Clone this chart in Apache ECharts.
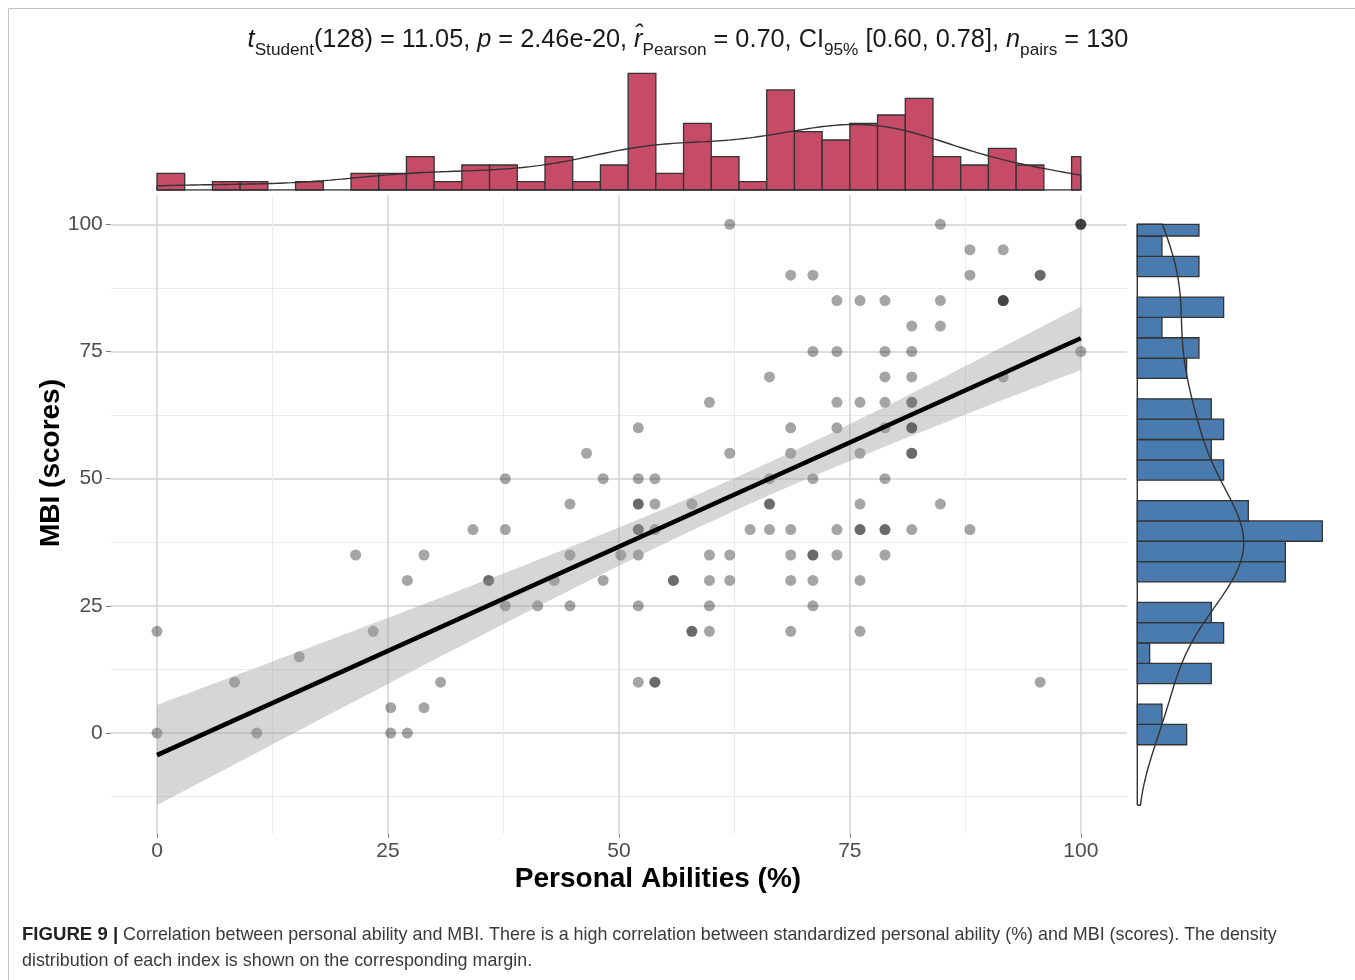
<!DOCTYPE html>
<html>
<head>
<meta charset="utf-8">
<script src="https://cdn.jsdelivr.net/npm/echarts@6/dist/echarts.min.js"></script>
<style>
  html, body { margin: 0; padding: 0; background: #ffffff; }
  #chart { width: 1355px; height: 980px; }
</style>
</head>
<body>
<div id="chart"></div>
<script>
// Personal Abilities (%) of each respondent (one entry per person)
const abilities = [
  0, 0, 8.4, 10.8, 15.4, 21.5, 23.4, 25.3, 25.3, 27.1, 27.1, 28.9, 28.9, 30.7, 34.2,
  35.9, 35.9, 37.7, 37.7, 37.7, 41.2, 43.0, 44.7, 44.7, 44.7, 46.5, 48.3, 48.3, 50.2,
  52.1, 52.1, 52.1, 52.1, 52.1, 52.1, 52.1, 52.1, 52.1,
  53.9, 53.9, 53.9, 53.9, 53.9,
  55.9, 55.9,
  57.9, 57.9, 57.9,
  59.8, 59.8, 59.8, 59.8, 59.8,
  62.0, 62.0, 62.0, 62.0,
  64.2,
  66.3, 66.3, 66.3, 66.3, 66.3,
  68.6, 68.6, 68.6, 68.6, 68.6, 68.6, 68.6,
  71.0, 71.0, 71.0, 71.0, 71.0, 71.0, 71.0,
  73.6, 73.6, 73.6, 73.6, 73.6, 73.6,
  76.1, 76.1, 76.1, 76.1, 76.1, 76.1, 76.1, 76.1,
  78.8, 78.8, 78.8, 78.8, 78.8, 78.8, 78.8, 78.8, 78.8,
  81.7, 81.7, 81.7, 81.7, 81.7, 81.7, 81.7, 81.7, 81.7, 81.7, 81.7,
  84.8, 84.8, 84.8, 84.8,
  88.0, 88.0, 88.0,
  91.6, 91.6, 91.6, 91.6, 91.6,
  95.6, 95.6, 95.6,
  100, 100, 100, 100
];

// MBI score of the same respondents, in the same order
const mbi = [
  20, 0, 10, 0, 15, 35, 20, 5, 0, 30, 0, 35, 5, 10, 40,
  30, 30, 50, 40, 25, 25, 30, 45, 35, 25, 55, 50, 30, 35,
  60, 50, 45, 45, 40, 40, 35, 25, 10,
  50, 45, 40, 10, 10,
  30, 30,
  45, 20, 20,
  65, 35, 30, 25, 20,
  100, 55, 35, 30,
  40,
  70, 50, 45, 45, 40,
  90, 60, 55, 40, 35, 30, 20,
  90, 75, 50, 35, 35, 30, 25,
  85, 75, 65, 60, 40, 35,
  85, 65, 55, 45, 40, 40, 30, 20,
  85, 75, 70, 65, 60, 50, 40, 40, 35,
  80, 75, 70, 65, 65, 60, 60, 60, 55, 55, 40,
  100, 85, 80, 45,
  95, 90, 40,
  95, 85, 85, 85, 70,
  90, 90, 10,
  100, 100, 100, 75
];

// Axis ticks and grid lines
const xTicks = [0, 25, 50, 75, 100];
const yTicks = [0, 25, 50, 75, 100];
const xMinorTicks = [12.5, 37.5, 62.5, 87.5];
const yMinorTicks = [-12.5, 12.5, 37.5, 62.5, 87.5];

// Histogram binning for the two margins
const X_BIN_WIDTH = 3, X_BIN_ORIGIN = 0;
const Y_BIN_WIDTH = 4, Y_BIN_ORIGIN = 1.7;

const T975 = 1.9787; // Student t quantile (0.975, df = 128)

const FONT = '"Liberation Sans", Arial, Helvetica, sans-serif';
const TOP_FILL = '#C54B67';
const SIDE_FILL = '#4A7BAE';
const EDGE = '#333333';

// ---------- statistics ----------
const n = abilities.length;
const mean = a => a.reduce((s, v) => s + v, 0) / a.length;
const mx = mean(abilities), my = mean(mbi);
let sxx = 0, sxy = 0;
for (let i = 0; i < n; i++) {
  sxx += (abilities[i] - mx) ** 2;
  sxy += (abilities[i] - mx) * (mbi[i] - my);
}
const slope = sxy / sxx;
const intercept = my - slope * mx;
let sse = 0;
for (let i = 0; i < n; i++) sse += (mbi[i] - intercept - slope * abilities[i]) ** 2;
const sigma = Math.sqrt(sse / (n - 2));

const xMin = Math.min(...abilities), xMax = Math.max(...abilities);
const fitSamples = [];
for (let k = 0; k <= 80; k++) {
  const x = xMin + (xMax - xMin) * k / 80;
  const yhat = intercept + slope * x;
  const se = sigma * Math.sqrt(1 / n + (x - mx) ** 2 / sxx);
  fitSamples.push([x, yhat - T975 * se, yhat + T975 * se]);
}
const yLo = Math.min(Math.min(...mbi), ...fitSamples.map(s => s[1]));
const yHi = Math.max(Math.max(...mbi), ...fitSamples.map(s => s[2]));

function quantile(values, p) {
  const s = values.slice().sort((a, b) => a - b);
  const h = (s.length - 1) * p, lo = Math.floor(h);
  return s[lo] + (h - lo) * ((s[lo + 1] !== undefined ? s[lo + 1] : s[lo]) - s[lo]);
}
function bwNrd0(values) {
  const m = mean(values);
  const sd = Math.sqrt(values.reduce((s, v) => s + (v - m) ** 2, 0) / (values.length - 1));
  const iqr = quantile(values, 0.75) - quantile(values, 0.25);
  let lo = Math.min(sd, iqr / 1.34);
  if (!(lo > 0)) lo = sd || 1;
  return 0.9 * lo * Math.pow(values.length, -0.2);
}
// Gaussian kernel density, expressed in histogram-count units
function kde(values, lo, hi, binWidth) {
  const bw = bwNrd0(values);
  const pts = [];
  const steps = 240;
  for (let i = 0; i <= steps; i++) {
    const x = lo + (hi - lo) * i / steps;
    let s = 0;
    for (const v of values) { const z = (x - v) / bw; s += Math.exp(-0.5 * z * z); }
    pts.push([x, s / (bw * Math.sqrt(2 * Math.PI)) * binWidth]);
  }
  return pts;
}
function histogram(values, origin, width, lo, hi) {
  const counts = new Map();
  values.forEach(v => {
    const k = Math.floor((v - origin) / width + 1e-9);
    counts.set(k, (counts.get(k) || 0) + 1);
  });
  return [...counts.entries()].sort((a, b) => a[0] - b[0]).map(([k, c]) => [
    Math.max(origin + k * width, lo), Math.min(origin + (k + 1) * width, hi), c
  ]);
}

const xBins = histogram(abilities, X_BIN_ORIGIN, X_BIN_WIDTH, xMin, xMax);
const yBins = histogram(mbi, Y_BIN_ORIGIN, Y_BIN_WIDTH, yLo, yHi).map(b => [b[2], b[0], b[1]]);
const xDens = kde(abilities, xMin, xMax, X_BIN_WIDTH);
const yDens = kde(mbi, yLo, yHi, Y_BIN_WIDTH);
const xDensPath = [[xMin, 0]].concat(xDens, [[xMax, 0], [xMin, 0]]);
const yDensPath = [[0, yLo]].concat(yDens.map(p => [p[1], p[0]]), [[0, yHi], [0, yLo]]);

const points = abilities.map((x, i) => [x, mbi[i]]);
const fitLine = [[xMin, intercept + slope * xMin], [xMax, intercept + slope * xMax]];

// ---------- layout ----------
const MAIN = { left: 110.8, top: 195.3, width: 1016.2, height: 638.5 };
const X_RANGE = [-5, 105];
const Y_RANGE = [-19.8, 105.7];

const chart = echarts.init(document.getElementById('chart'), null, { renderer: 'canvas' });

const subtitleRich = {
  n: { fontSize: 25.3, fontFamily: FONT, fill: '#1a1a1a', lineHeight: 38, verticalAlign: 'middle' },
  i: { fontSize: 25.3, fontFamily: FONT, fontStyle: 'italic', fill: '#1a1a1a', lineHeight: 38, verticalAlign: 'middle' },
  s: { fontSize: 17.2, fontFamily: FONT, fill: '#1a1a1a', lineHeight: 21, verticalAlign: 'bottom' }
};

const hiddenAxisLine = { show: false, onZero: false };

chart.setOption({
  animation: false,
  backgroundColor: '#ffffff',
  textStyle: { fontFamily: FONT },
  grid: [
    { left: MAIN.left, top: MAIN.top, width: MAIN.width, height: MAIN.height },
    { left: MAIN.left, top: 73.3, width: MAIN.width, height: 116.7 },
    { left: 1137.3, top: MAIN.top, width: 185, height: MAIN.height }
  ],
  xAxis: [
    {
      gridIndex: 0, type: 'value', min: X_RANGE[0], max: X_RANGE[1], position: 'bottom',
      axisLine: hiddenAxisLine,
      axisTick: { show: true, length: 4, customValues: xTicks, lineStyle: { color: '#777777', width: 1 } },
      axisLabel: { customValues: xTicks, fontSize: 21, color: '#4d4d4d', margin: 7, fontFamily: FONT },
      splitLine: { show: true, lineStyle: { color: '#d3d3d3', width: 1.5 } }
    },
    {
      gridIndex: 0, type: 'value', min: X_RANGE[0], max: X_RANGE[1], position: 'bottom',
      axisLine: hiddenAxisLine, axisLabel: { show: false },
      axisTick: { show: false, customValues: xMinorTicks },
      splitLine: { show: true, lineStyle: { color: '#ebebeb', width: 1 } }
    },
    { gridIndex: 1, type: 'value', min: X_RANGE[0], max: X_RANGE[1], show: false, axisLine: hiddenAxisLine },
    { gridIndex: 2, type: 'value', min: 0, max: 'dataMax', show: false, axisLine: hiddenAxisLine }
  ],
  yAxis: [
    {
      gridIndex: 0, type: 'value', min: Y_RANGE[0], max: Y_RANGE[1], position: 'left',
      axisLine: hiddenAxisLine,
      axisTick: { show: true, length: 5, customValues: yTicks, lineStyle: { color: '#777777', width: 1 } },
      axisLabel: { customValues: yTicks, fontSize: 21, color: '#4d4d4d', margin: 8, fontFamily: FONT },
      splitLine: { show: true, lineStyle: { color: '#d3d3d3', width: 1.5 } }
    },
    {
      gridIndex: 0, type: 'value', min: Y_RANGE[0], max: Y_RANGE[1], position: 'left',
      axisLine: hiddenAxisLine, axisLabel: { show: false },
      axisTick: { show: false, customValues: yMinorTicks },
      splitLine: { show: true, lineStyle: { color: '#ebebeb', width: 1 } }
    },
    { gridIndex: 1, type: 'value', min: 0, max: 'dataMax', show: false, axisLine: hiddenAxisLine },
    { gridIndex: 2, type: 'value', min: Y_RANGE[0], max: Y_RANGE[1], show: false, axisLine: hiddenAxisLine }
  ],
  series: [
    {
      name: 'respondents', type: 'scatter', xAxisIndex: 0, yAxisIndex: 0, z: 2,
      data: points, symbol: 'circle', symbolSize: 11,
      itemStyle: { color: 'rgba(0,0,0,0.44)', borderWidth: 0 },
      emphasis: { disabled: true }, silent: true
    },
    {
      name: 'confidence band', type: 'custom', xAxisIndex: 0, yAxisIndex: 0, z: 3,
      data: fitSamples, encode: { x: 0, y: [1, 2] }, silent: true,
      renderItem: (params, api) => {
        if (params.dataIndex !== 0) return null;
        const upper = fitSamples.map(s => api.coord([s[0], s[2]]));
        const lower = fitSamples.map(s => api.coord([s[0], s[1]])).reverse();
        return { type: 'polygon', shape: { points: upper.concat(lower) }, style: { fill: 'rgba(153,153,153,0.4)' } };
      }
    },
    {
      name: 'fit', type: 'line', xAxisIndex: 0, yAxisIndex: 0, z: 4,
      data: fitLine, showSymbol: false, symbol: 'none', silent: true,
      lineStyle: { color: '#000000', width: 4.6 }
    },
    {
      name: 'abilities histogram', type: 'custom', xAxisIndex: 2, yAxisIndex: 2, z: 2,
      data: xBins, encode: { x: [0, 1], y: 2 }, silent: true,
      renderItem: (params, api) => {
        const p0 = api.coord([api.value(0), 0]);
        const p1 = api.coord([api.value(1), api.value(2)]);
        return {
          type: 'rect',
          shape: { x: p0[0], y: p1[1], width: p1[0] - p0[0], height: p0[1] - p1[1] },
          style: { fill: TOP_FILL, stroke: EDGE, lineWidth: 1.3 }
        };
      }
    },
    {
      name: 'abilities density', type: 'line', xAxisIndex: 2, yAxisIndex: 2, z: 3,
      data: xDensPath, showSymbol: false, symbol: 'none', silent: true,
      lineStyle: { color: EDGE, width: 1.4 }
    },
    {
      name: 'mbi histogram', type: 'custom', xAxisIndex: 3, yAxisIndex: 3, z: 2,
      data: yBins, encode: { x: 0, y: [1, 2] }, silent: true,
      renderItem: (params, api) => {
        const p0 = api.coord([0, api.value(1)]);
        const p1 = api.coord([api.value(0), api.value(2)]);
        return {
          type: 'rect',
          shape: { x: p0[0], y: p1[1], width: p1[0] - p0[0], height: p0[1] - p1[1] },
          style: { fill: SIDE_FILL, stroke: EDGE, lineWidth: 1.3 }
        };
      }
    },
    {
      name: 'mbi density', type: 'line', xAxisIndex: 3, yAxisIndex: 3, z: 3,
      data: yDensPath, showSymbol: false, symbol: 'none', silent: true,
      lineStyle: { color: EDGE, width: 1.4 }
    }
  ],
  graphic: [
    {
      type: 'rect', silent: true, z: -10,
      shape: { x: 8.5, y: 8.5, width: 1400, height: 1000 },
      style: { fill: 'none', stroke: '#c4c4c4', lineWidth: 1 }
    },
    {
      type: 'text', x: 688, y: 40, silent: true,
      style: {
        text: '{i|t}{s|Student}{n|(128) = 11.05, }{i|p}{n| = 2.46e-20, }{i|r\u0302}{s|Pearson}{n| = 0.70, CI}{s|95%}{n| [0.60, 0.78], }{i|n}{s|pairs}{n| = 130}',
        rich: subtitleRich, align: 'center', verticalAlign: 'middle',
        fontSize: 25.3, fontFamily: FONT, fill: '#1a1a1a'
      }
    },
    {
      // x-axis title
      type: 'text', x: 658, y: 879, silent: true,
      style: {
        text: 'Personal Abilities (%)', align: 'center', verticalAlign: 'middle',
        fontSize: 28, fontWeight: 'bold', fontFamily: FONT, fill: '#000000'
      }
    },
    {
      // y-axis title
      type: 'text', x: 51, y: 463, rotation: Math.PI / 2, silent: true,
      style: {
        text: 'MBI (scores)', align: 'center', verticalAlign: 'middle',
        fontSize: 28, fontWeight: 'bold', fontFamily: FONT, fill: '#000000'
      }
    },
    {
      type: 'text', x: 22, y: 935, silent: true,
      style: {
        text: '{b|FIGURE 9 |} Correlation between personal ability and MBI. There is a high correlation between standardized personal ability (%) and MBI (scores). The density',
        rich: { b: { fontSize: 18.6, fontWeight: 'bold', fontFamily: FONT, fill: '#222222' } },
        fontSize: 17.9, fontFamily: FONT, fill: '#3a3a3a', verticalAlign: 'middle'
      }
    },
    {
      type: 'text', x: 22, y: 961, silent: true,
      style: {
        text: 'distribution of each index is shown on the corresponding margin.',
        fontSize: 17.9, fontFamily: FONT, fill: '#3a3a3a', verticalAlign: 'middle'
      }
    }
  ]
});
</script>
</body>
</html>
